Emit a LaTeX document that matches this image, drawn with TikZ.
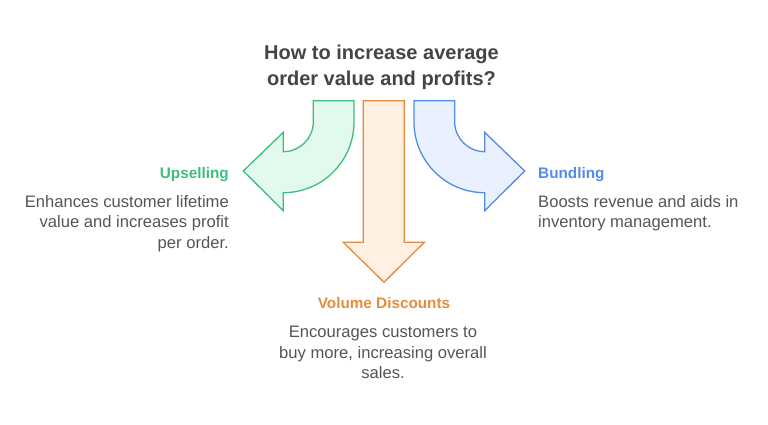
\documentclass[tikz,border=0pt]{standalone}
\usepackage{fontspec}
\setmainfont{Liberation Sans}
\definecolor{upgreen}{RGB}{62, 190, 120}
\definecolor{upgreenfill}{RGB}{226, 250, 238}
\definecolor{volorange}{RGB}{228, 140, 62}
\definecolor{volorangefill}{RGB}{255, 240, 226}
\definecolor{bundblue}{RGB}{84, 138, 232}
\definecolor{bundbluefill}{RGB}{234, 241, 254}
\definecolor{titlegray}{RGB}{68, 68, 68}
\definecolor{textgray}{RGB}{85, 85, 85}
\usetikzlibrary{positioning}

\begin{document}
\begin{tikzpicture}[x=1pt, y=1pt, line join=miter,
  arrowshape/.style={line width=1.3pt},
  headtext/.style={font=\fontsize{15.3}{18}\selectfont\bfseries, inner sep=0pt},
  desctext/.style={font=\fontsize{16.6}{20.4}\selectfont, text=textgray, inner sep=0pt}]
  \useasboundingbox (0, 0) rectangle (768, -424);

  % The question
  \node[font=\fontsize{20}{26.8}\selectfont\bfseries, text=titlegray, align=center, inner sep=0pt, anchor=north] (question) at (381.5, -44.4) {
    How to increase average\\order value and profits?
  };

  % Upselling arrow
  \draw[arrowshape, draw=upgreen, fill=upgreenfill] (313.3, -100.7) -- (354, -100.7) -- (354, -122)
    arc[start angle=0, end angle=-90, radius=70.7] -- (283.3, -210.7) -- (243.3, -171)
    -- (283.3, -132.3) -- (283.3, -151.7) arc[start angle=-90, end angle=0, radius=30] -- cycle;

  % Volume discounts arrow
  \draw[arrowshape, draw=volorange, fill=volorangefill] (363.3, -100.7) -- (404.3, -100.7) -- (404.3, -242.3)
    -- (424.3, -242.3) -- (384, -282.3) -- (343.3, -242.3) -- (363.3, -242.3) -- cycle;

  % Bundling arrow
  \draw[arrowshape, draw=bundblue, fill=bundbluefill] (454.7, -100.7) -- (414, -100.7) -- (414, -122)
    arc[start angle=180, end angle=270, radius=70.7] -- (484.7, -210.7) -- (524.7, -171)
    -- (484.7, -132.3) -- (484.7, -151.7) arc[start angle=270, end angle=180, radius=30] -- cycle;

  % Upselling
  \node[headtext, text=upgreen, anchor=base east] (upsell) at (229, -178.3) {Upselling};
  \node[desctext, align=right, anchor=north east] (upselltext) at (229, -195.2) {
    Enhances customer lifetime\\value and increases profit\\per order.
  };

  % Bundling
  \node[headtext, text=bundblue, anchor=base west] (bundle) at (538, -178) {Bundling};
  \node[desctext, align=left, anchor=north west] (bundletext) at (538, -195.2) {
    Boosts revenue and aids in\\inventory management.
  };

  % Volume discounts
  \node[headtext, text=volorange, anchor=base] (volume) at (384, -308.3) {Volume Discounts};
  \node[desctext, align=center, anchor=north] (volumetext) at (383, -326.3) {
    Encourages customers to\\buy more, increasing overall\\sales.
  };
\end{tikzpicture}
\end{document}
